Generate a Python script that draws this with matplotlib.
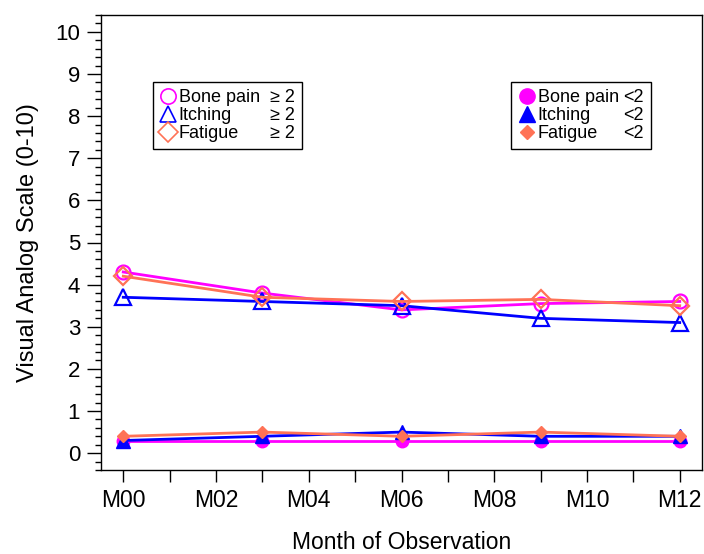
import numpy as np
import matplotlib
matplotlib.use("Agg")
import matplotlib.pyplot as plt
from matplotlib.lines import Line2D
from matplotlib.ticker import MultipleLocator

plt.rcParams['font.family'] = ['Liberation Sans', 'DejaVu Sans']

months = [0, 3, 6, 9, 12]
tick_months = [0, 2, 4, 6, 8, 10, 12]
tick_labels = ["M00", "M02", "M04", "M06", "M08", "M10", "M12"]

# VAS >= 2 groups
bone_hi = [4.3, 3.8, 3.4, 3.55, 3.6]
itch_hi = [3.7, 3.6, 3.5, 3.2, 3.1]
fatigue_hi = [4.2, 3.7, 3.6, 3.65, 3.5]

# VAS < 2 groups
bone_lo = [0.3, 0.3, 0.3, 0.3, 0.3]
itch_lo = [0.3, 0.4, 0.5, 0.4, 0.4]
fatigue_lo = [0.4, 0.5, 0.4, 0.5, 0.4]

magenta = "#FF00FF"
blue = "#0000FF"
coral = "#FF7256"

fig = plt.figure(figsize=(7.04, 5.54), dpi=100)
ax = fig.add_axes([101/704, 1-470/554, 601/704, 455/554])

lw = 2.0
ax.plot(months, bone_hi, color=magenta, lw=lw, marker="o", ms=10, mfc="none", mew=1.6)
ax.plot(months, itch_hi, color=blue, lw=lw, marker="^", ms=11, mfc="none", mew=1.6)
ax.plot(months, fatigue_hi, color=coral, lw=lw, marker="D", ms=9, mfc="none", mew=1.6)

ax.plot(months, bone_lo, color=magenta, lw=lw, marker="o", ms=9)
ax.plot(months, itch_lo, color=blue, lw=lw, marker="^", ms=10)
ax.plot(months, fatigue_lo, color=coral, lw=lw, marker="D", ms=6)

ax.set_xlim(-0.48, 12.48)
ax.set_ylim(-0.4, 10.4)
ax.set_xticks(tick_months)
ax.set_xticklabels(tick_labels)
ax.xaxis.set_minor_locator(MultipleLocator(1))
ax.set_yticks(range(0, 11))
ax.yaxis.set_minor_locator(MultipleLocator(0.2))

ax.tick_params(axis="x", which="both", direction="out", length=8.5, width=1, labelsize=16.5, pad=5)
ax.tick_params(axis="y", which="major", direction="out", length=10, width=1, labelsize=16, pad=5)
ax.tick_params(axis="y", which="minor", direction="out", length=4.5, width=1)
for s in ax.spines.values():
    s.set_linewidth(1)

ax.set_xlabel("Month of Observation", fontsize=16.5, labelpad=14)
ax.set_ylabel("Visual Analog Scale (0-10)", fontsize=17, labelpad=12)

blank = Line2D([], [], linestyle="none")
hi_handles = [
    Line2D([], [], linestyle="none", color=magenta, marker="o", ms=11, mfc="none", mew=1.2),
    Line2D([], [], linestyle="none", color=blue, marker="^", ms=12, mfc="none", mew=1.2),
    Line2D([], [], linestyle="none", color=coral, marker="D", ms=10, mfc="none", mew=1.2),
    blank, blank, blank,
]
hi_labels = ["Bone pain", "Itching", "Fatigue", "\u2265 2", "\u2265 2", "\u2265 2"]
lo_handles = [
    Line2D([], [], linestyle="none", color=magenta, marker="o", ms=11),
    Line2D([], [], linestyle="none", color=blue, marker="^", ms=12),
    Line2D([], [], linestyle="none", color=coral, marker="D", ms=7),
    blank, blank, blank,
]
lo_labels = ["Bone pain", "Itching", "Fatigue", "<2", "<2", "<2"]

leg_kw = dict(ncol=2, loc="upper left", fancybox=False, framealpha=1, edgecolor="black",
              fontsize=13, handlelength=0.9, handletextpad=0.15, labelspacing=0.05,
              borderpad=0.4, borderaxespad=0)
leg1 = ax.legend(hi_handles, hi_labels, bbox_to_anchor=(0.086, 0.853), columnspacing=-0.5, **leg_kw)
leg1.get_frame().set_linewidth(1)
ax.add_artist(leg1)
leg2 = ax.legend(lo_handles, lo_labels, bbox_to_anchor=(0.683, 0.853), columnspacing=-0.8, **leg_kw)
leg2.get_frame().set_linewidth(1)

fig.savefig("out.png", dpi=100)
